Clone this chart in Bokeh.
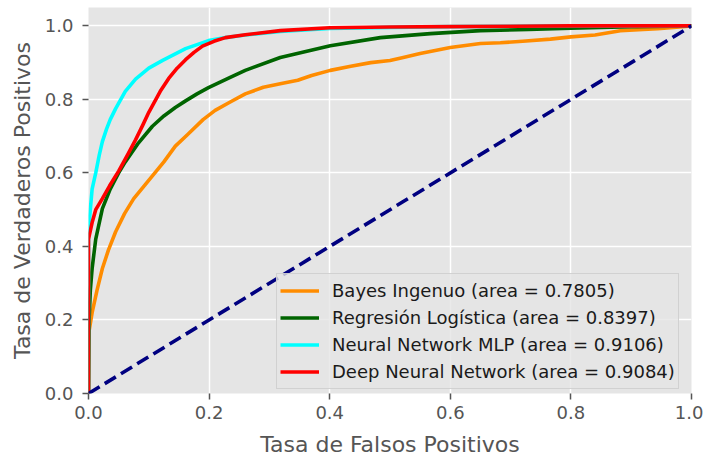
from bokeh.plotting import figure
from bokeh.models import Range1d, FixedTicker, PrintfTickFormatter, Legend, LegendItem
from bokeh.embed import file_html
from bokeh.resources import INLINE

# ROC curves: false positive rate / true positive rate per classifier
fpr_nb = [0, 0.001, 0.006, 0.014, 0.023, 0.033, 0.045, 0.06, 0.075, 0.09, 0.106, 0.125,
          0.144, 0.164, 0.19, 0.21, 0.235, 0.26, 0.29, 0.32, 0.347, 0.37, 0.401, 0.435,
          0.468, 0.50, 0.522, 0.55, 0.60, 0.65, 0.683, 0.72, 0.766, 0.80, 0.84, 0.882,
          0.92, 0.944, 0.97, 1.0]
tpr_nb = [0, 0.17, 0.22, 0.28, 0.34, 0.39, 0.44, 0.49, 0.53, 0.56, 0.592, 0.63,
          0.673, 0.704, 0.745, 0.77, 0.793, 0.815, 0.833, 0.843, 0.852, 0.865, 0.879, 0.89,
          0.90, 0.906, 0.914, 0.925, 0.941, 0.952, 0.954, 0.958, 0.964, 0.97, 0.975, 0.987,
          0.99, 0.992, 0.996, 1.0]

fpr_lr = [0, 0.001, 0.003, 0.006, 0.012, 0.023, 0.036, 0.05, 0.061, 0.083, 0.106, 0.125,
          0.144, 0.161, 0.18, 0.199, 0.235, 0.26, 0.318, 0.401, 0.484, 0.567, 0.65, 0.73,
          0.8, 0.9, 1.0]
tpr_lr = [0, 0.2, 0.28, 0.34, 0.42, 0.503, 0.556, 0.6, 0.63, 0.682, 0.727, 0.755,
          0.778, 0.796, 0.815, 0.832, 0.86, 0.879, 0.914, 0.946, 0.968, 0.979, 0.987, 0.99,
          0.994, 0.998, 1.0]

fpr_mlp = [0, 0, 0.003, 0.006, 0.012, 0.018, 0.023, 0.03, 0.036, 0.045, 0.061, 0.078, 0.1,
           0.123, 0.161, 0.199, 0.227, 0.26, 0.318, 0.40, 0.5, 0.6, 0.7, 0.8, 0.9, 1.0]
tpr_mlp = [0, 0.44, 0.5, 0.556, 0.6, 0.65, 0.685, 0.72, 0.745, 0.775, 0.822, 0.855, 0.885,
           0.906, 0.938, 0.96, 0.968, 0.975, 0.985, 0.993, 0.996, 0.998, 0.999, 1.0, 1.0, 1.0]

fpr_dnn = [0, 0, 0.006, 0.012, 0.023, 0.035, 0.05, 0.065, 0.078, 0.09, 0.1, 0.119, 0.133,
           0.147, 0.161, 0.175, 0.189, 0.208, 0.227, 0.26, 0.318, 0.40, 0.5, 0.6, 0.7, 0.8,
           0.9, 1.0]
tpr_dnn = [0, 0.42, 0.465, 0.50, 0.53, 0.565, 0.605, 0.65, 0.69, 0.73, 0.765, 0.822, 0.857,
           0.885, 0.908, 0.928, 0.945, 0.958, 0.968, 0.976, 0.987, 0.995, 0.997, 0.998, 0.999,
           1.0, 1.0, 1.0]

diag_x = [0, 1]
diag_y = [0, 1]

labels = [
    "Bayes Ingenuo (area = 0.7805)",
    "Regresión Logística (area = 0.8397)",
    "Neural Network MLP (area = 0.9106)",
    "Deep Neural Network (area = 0.9084)",
]
colors = ["darkorange", "darkgreen", "aqua", "red"]
ticks = [0.0, 0.2, 0.4, 0.6, 0.8, 1.0]

FONT = "DejaVu Sans"

p = figure(width=703, height=459, output_backend="svg", toolbar_location=None,
           x_range=Range1d(0, 1), y_range=Range1d(0, 1.05),
           min_border_left=88, min_border_right=12, min_border_top=7, min_border_bottom=62)

p.background_fill_color = "#E5E5E5"
p.border_fill_color = "white"
p.outline_line_color = None

for grid in (p.xgrid, p.ygrid):
    grid.grid_line_color = "white"
    grid.grid_line_width = 1.5
    grid.ticker = FixedTicker(ticks=ticks)

for ax in (p.xaxis, p.yaxis):
    ax.ticker = FixedTicker(ticks=ticks)
    ax.formatter = PrintfTickFormatter(format="%.1f")
    ax.axis_line_color = None
    ax.major_tick_line_color = "#555555"
    ax.major_tick_line_width = 1.5
    ax.major_tick_in = 0
    ax.major_tick_out = 6
    ax.minor_tick_line_color = None
    ax.major_label_text_font = FONT
    ax.major_label_text_font_size = "18px"
    ax.major_label_text_color = "#555555"
    ax.axis_label_text_font = FONT
    ax.axis_label_text_font_size = "22px"
    ax.axis_label_text_font_style = "normal"
    ax.axis_label_text_color = "#555555"

p.xaxis.axis_label = "Tasa de Falsos Positivos"
p.yaxis.axis_label = "Tasa de Verdaderos Positivos"
p.xaxis.major_label_standoff = 6
p.yaxis.major_label_standoff = 9
p.xaxis.axis_label_standoff = 10
p.yaxis.axis_label_standoff = 7

series = [(fpr_nb, tpr_nb), (fpr_lr, tpr_lr), (fpr_mlp, tpr_mlp), (fpr_dnn, tpr_dnn)]
items = []
for (fx, ty), col, lab in zip(series, colors, labels):
    r = p.line(fx, ty, line_color=col, line_width=3.6, line_join="round")
    items.append(LegendItem(label=lab, renderers=[r]))

p.line(diag_x, diag_y, line_color="navy", line_width=3.6, line_dash="13 6")

legend = Legend(items=items, location=(188, 4))
legend.label_text_font = FONT
legend.label_text_font_size = "18px"
legend.label_text_color = "#1a1a1a"
legend.glyph_width = 39
legend.glyph_height = 27
legend.label_height = 27
legend.label_standoff = 13
legend.spacing = 0
legend.padding = 3
legend.margin = 0
legend.background_fill_color = "#E5E5E5"
legend.background_fill_alpha = 0.8
legend.border_line_color = "#CCCCCC"
legend.border_line_alpha = 0.8
legend.border_line_width = 1
p.add_layout(legend)

open("out.html", "w").write(file_html(p, INLINE))
